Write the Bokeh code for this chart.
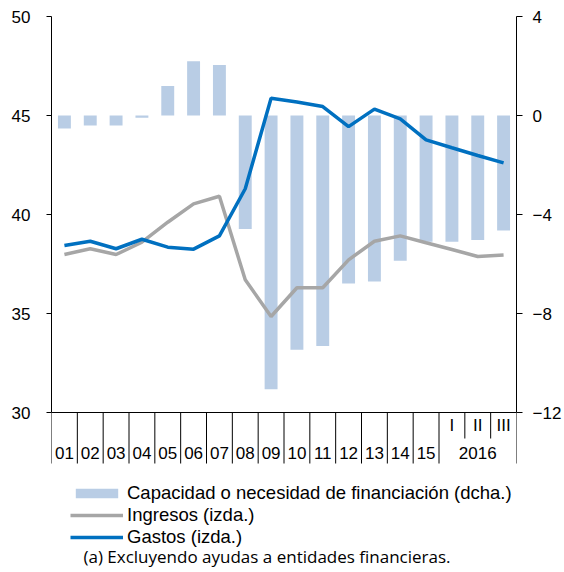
from bokeh.plotting import figure
from bokeh.models import (Range1d, LinearAxis, FixedTicker, Span, Legend,
                          LegendItem, Label)
from bokeh.core.properties import value
from bokeh.embed import file_html
from bokeh.resources import INLINE

# ---------------- data ----------------
years = ["01", "02", "03", "04", "05", "06", "07", "08", "09", "10",
         "11", "12", "13", "14", "15"]
quarters = ["I", "II", "III"]
quarter_year = "2016"

capacidad = [-0.53, -0.40, -0.40, -0.09, 1.19, 2.19, 2.04, -4.59, -11.06,
             -9.46, -9.31, -6.79, -6.71, -5.87, -5.10, -5.10, -5.03, -4.65]
ingresos = [37.98, 38.27, 37.98, 38.60, 39.61, 40.54, 40.92, 36.70, 34.85,
            36.30, 36.30, 37.71, 38.65, 38.92, 38.57, 38.23, 37.88, 37.96]
gastos = [38.43, 38.65, 38.27, 38.75, 38.35, 38.25, 38.92, 41.30, 45.87,
          45.68, 45.45, 44.44, 45.32, 44.83, 43.77, 43.37, 42.98, 42.61]

left_ticks = [30, 35, 40, 45, 50]
right_ticks = [-12, -8, -4, 0, 4]

legend_labels = ["Capacidad o necesidad de financiación (dcha.)",
                 "Ingresos (izda.)", "Gastos (izda.)"]
footnote = "(a) Excluyendo ayudas a entidades financieras."

# ---------------- layout ----------------
n = len(years) + len(quarters)
xs = [i + 0.5 for i in range(n)]

FIG_W, FIG_H = 564, 572
B_LEFT, B_RIGHT, B_TOP, B_BOTTOM = 51, 47, 16, 0
FRAME_W = FIG_W - B_LEFT - B_RIGHT
FRAME_H = FIG_H - B_TOP - B_BOTTOM
AXIS_PX = 396                      # pixel height of the value zone
L_MIN, L_MAX = left_ticks[0], left_ticks[-1]
R_MIN, R_MAX = right_ticks[0], right_ticks[-1]
lpp = (L_MAX - L_MIN) / AXIS_PX    # left units per pixel
xpp = n / FRAME_W                  # x units per pixel

FONT = "Liberation Sans"
BAR_C = "#B9CDE5"
ING_C = "#A6A6A6"
GAS_C = "#0070C0"

p = figure(width=FIG_W, height=FIG_H, output_backend="svg", toolbar_location=None,
           x_range=Range1d(0, n),
           y_range=Range1d(L_MAX - FRAME_H * lpp, L_MAX),
           x_axis_location=None, y_axis_location=None,
           min_border_left=B_LEFT, min_border_right=B_RIGHT,
           min_border_top=B_TOP, min_border_bottom=B_BOTTOM)
p.extra_y_ranges = {"right": Range1d(R_MAX - FRAME_H * (R_MAX - R_MIN) / AXIS_PX, R_MAX)}
p.outline_line_color = None
p.grid.grid_line_color = None
p.background_fill_color = "white"
p.border_fill_color = "white"

# axes
yl = LinearAxis(bounds=(L_MIN, L_MAX), ticker=FixedTicker(ticks=left_ticks))
yr = LinearAxis(y_range_name="right", bounds=(R_MIN, R_MAX),
                ticker=FixedTicker(ticks=right_ticks))
for ax, tout, stand in ((yl, 5, 16), (yr, 6, 10)):
    ax.major_tick_out = tout
    ax.major_tick_in = 0
    ax.minor_tick_out = 0
    ax.minor_tick_in = 0
    ax.major_label_standoff = stand
    ax.major_label_text_font = FONT
    ax.major_label_text_font_size = "17px"
    ax.major_label_text_color = "black"
    ax.axis_line_color = "black"
    ax.major_tick_line_color = "black"
p.add_layout(yl, "left")
p.add_layout(yr, "right")

# glyphs
bars = p.vbar(x=xs, top=capacidad, bottom=0, width=0.5, y_range_name="right",
              fill_color=BAR_C, line_color=None)
l_ing = p.line(xs, ingresos, line_color=ING_C, line_width=3.5)
l_gas = p.line(xs, gastos, line_color=GAS_C, line_width=3.5)

# category axis (drawn below the value zone)
p.add_layout(Span(location=L_MIN, dimension="width", line_color="black",
                  line_width=1))
long_b = list(range(len(years) + 1)) + [n]
short_b = list(range(len(years) + 1, n))
p.segment(x0=long_b, y0=[L_MIN] * len(long_b), x1=long_b,
          y1=[L_MIN - 51 * lpp] * len(long_b), line_color="black", line_width=1)
p.segment(x0=short_b, y0=[L_MIN] * len(short_b), x1=short_b,
          y1=[L_MIN - 26 * lpp] * len(short_b), line_color="black", line_width=1)

p.text(x=[i + 0.5 for i in range(len(years))], y=[L_MIN - 40.7 * lpp] * len(years),
       text=years, text_align="center", text_baseline="middle",
       text_font=value(FONT), text_font_size="17px", text_color="black")
p.text(x=[len(years) + i + 0.5 for i in range(len(quarters))],
       y=[L_MIN - 13 * lpp] * len(quarters), text=quarters,
       text_align="center", text_baseline="middle",
       text_font=value(FONT), text_font_size="17px", text_color="black")
p.text(x=[len(years) + len(quarters) / 2], y=[L_MIN - 40.7 * lpp],
       text=[quarter_year], text_align="center", text_baseline="middle",
       text_font=value(FONT), text_font_size="17px", text_color="black")

# legend (location = bottom-left corner, in px from the frame's bottom-left)
legend = Legend(items=[LegendItem(label=legend_labels[0], renderers=[bars]),
                       LegendItem(label=legend_labels[1], renderers=[l_ing]),
                       LegendItem(label=legend_labels[2], renderers=[l_gas])],
                location=(19, 24), orientation="vertical",
                glyph_width=53, glyph_height=12, label_height=12,
                spacing=0, padding=0, margin=0, label_standoff=4,
                border_line_color=None, background_fill_alpha=0,
                label_text_font=FONT, label_text_font_size="18.5px",
                label_text_color="black")
p.add_layout(legend, "center")

p.add_layout(Label(x=32 * xpp, y=L_MIN - 144 * lpp, text=footnote,
                   text_font="Open Sans", text_font_size="17px",
                   text_baseline="middle", text_color="black"))

open("out.html", "w").write(file_html(p, INLINE))
